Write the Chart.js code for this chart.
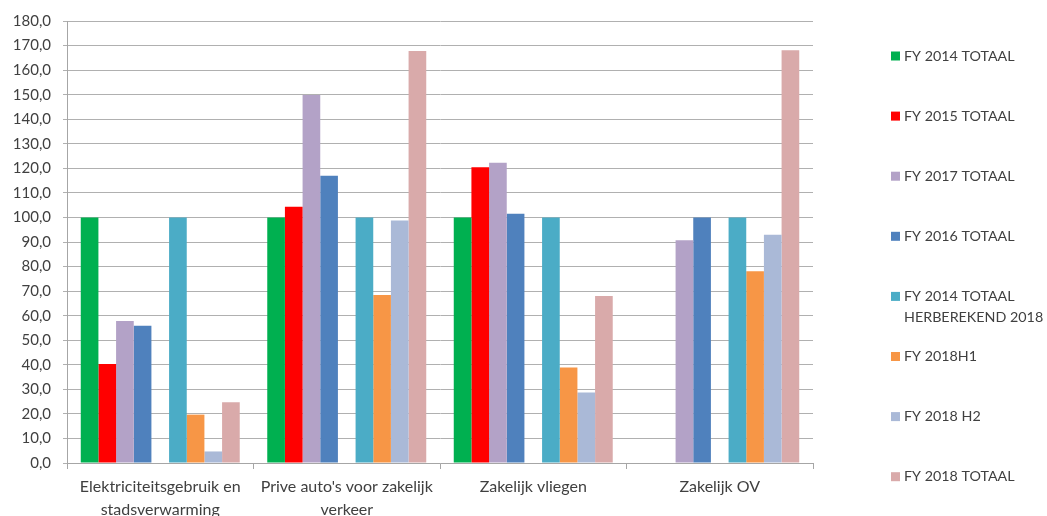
<!DOCTYPE html>
<html>
<head>
<meta charset="utf-8">
<script src="https://cdn.jsdelivr.net/npm/chart.js@4/dist/chart.umd.min.js"></script>
<style>
  html, body { margin: 0; padding: 0; background: #fff; overflow: hidden; }
  #wrap { width: 1047px; height: 516px; position: relative; }
</style>
</head>
<body>
<div id="wrap"><canvas id="c" width="1047" height="516"></canvas></div>
<script>
// ---- data ----
const categories = [
  ['Elektriciteitsgebruik en', 'stadsverwarming'],
  ["Prive auto's voor zakelijk", 'verkeer'],
  'Zakelijk vliegen',
  'Zakelijk OV'
];
const fy2014Totaal       = [100, 100, 100, null];
const fy2015Totaal       = [40.3, 104.4, 120.4, null];
const fy2017Totaal       = [57.8, 149.9, 122.3, 90.7];
const fy2016Totaal       = [55.9, 117.0, 101.5, 100];
const fy2014Herberekend  = [100, 100, 100, 100];
const fy2018H1           = [19.7, 68.4, 38.9, 78.1];
const fy2018H2           = [4.7, 98.8, 28.7, 93.0];
const fy2018Totaal       = [24.7, 167.8, 68.0, 168.1];
const emptySlot          = [null, null, null, null];

const seriesLabels = [
  ['FY 2014 TOTAAL'],
  ['FY 2015 TOTAAL'],
  ['FY 2017 TOTAAL'],
  ['FY 2016 TOTAAL'],
  ['FY 2014 TOTAAL', 'HERBEREKEND 2018'],
  ['FY 2018H1'],
  ['FY 2018 H2'],
  ['FY 2018 TOTAAL']
];
const yMin = 0, yMax = 180, yStep = 10;

// ---- styles ----
const colors = ['#00B050', '#FF0000', '#B3A2C7', '#4F81BD', '#4BACC6', '#F79646', '#AAB9D7', '#D9AAAA'];
const FONT = 'Lato, "Open Sans", sans-serif';
const TEXT = '#404040';

const seriesData = [fy2014Totaal, fy2015Totaal, fy2017Totaal, fy2016Totaal,
                    fy2014Herberekend, fy2018H1, fy2018H2, fy2018Totaal];

const datasets = [];
seriesData.forEach((d, i) => {
  if (i === 4) {
    datasets.push({ label: '', data: emptySlot, backgroundColor: 'rgba(0,0,0,0)', spacer: true });
  }
  datasets.push({ label: seriesLabels[i].join(' '), data: d, backgroundColor: colors[i], legendLines: seriesLabels[i] });
});

const legendPlugin = {
  id: 'sideLegend',
  afterDraw(chart) {
    const ctx = chart.ctx;
    ctx.save();
    ctx.font = '14.3px ' + FONT;
    ctx.textBaseline = 'middle';
    ctx.textAlign = 'left';
    let idx = 0;
    chart.data.datasets.forEach(ds => {
      if (ds.spacer) return;
      const y = 56 + idx * 60.1;
      ctx.fillStyle = ds.backgroundColor;
      ctx.fillRect(891, y - 4.5, 9, 9);
      ctx.fillStyle = TEXT;
      ds.legendLines.forEach((line, j) => ctx.fillText(line, 904, y + j * 20.5));
      idx++;
    });
    ctx.restore();
  }
};

new Chart(document.getElementById('c'), {
  type: 'bar',
  data: { labels: categories, datasets },
  options: {
    responsive: false,
    animation: false,
    layout: { padding: { top: 20, right: 234, left: 0, bottom: 0 } },
    plugins: { legend: { display: false }, tooltip: { enabled: false } },
    datasets: { bar: { categoryPercentage: 0.8525, barPercentage: 1.0 } },
    scales: {
      x: {
        grid: { drawOnChartArea: false, drawTicks: true, tickLength: 6, color: '#A6A6A6', offset: true },
        border: { color: '#A6A6A6', width: 1 },
        ticks: { color: TEXT, font: { family: FONT, size: 16, lineHeight: 1.4 }, padding: 7, maxRotation: 0, autoSkip: false },
        afterFit(scale) { scale.height = 53; }
      },
      y: {
        min: yMin, max: yMax,
        grid: { color: '#B0B0B0', tickLength: 4, lineWidth: 1 },
        border: { color: '#A6A6A6', width: 1 },
        ticks: {
          stepSize: yStep, color: TEXT, font: { family: FONT, size: 15 }, padding: 12,
          callback: v => v.toFixed(1).replace('.', ',')
        },
        afterFit(scale) { scale.width = 67; }
      }
    }
  },
  plugins: [legendPlugin]
});
</script>
</body>
</html>
